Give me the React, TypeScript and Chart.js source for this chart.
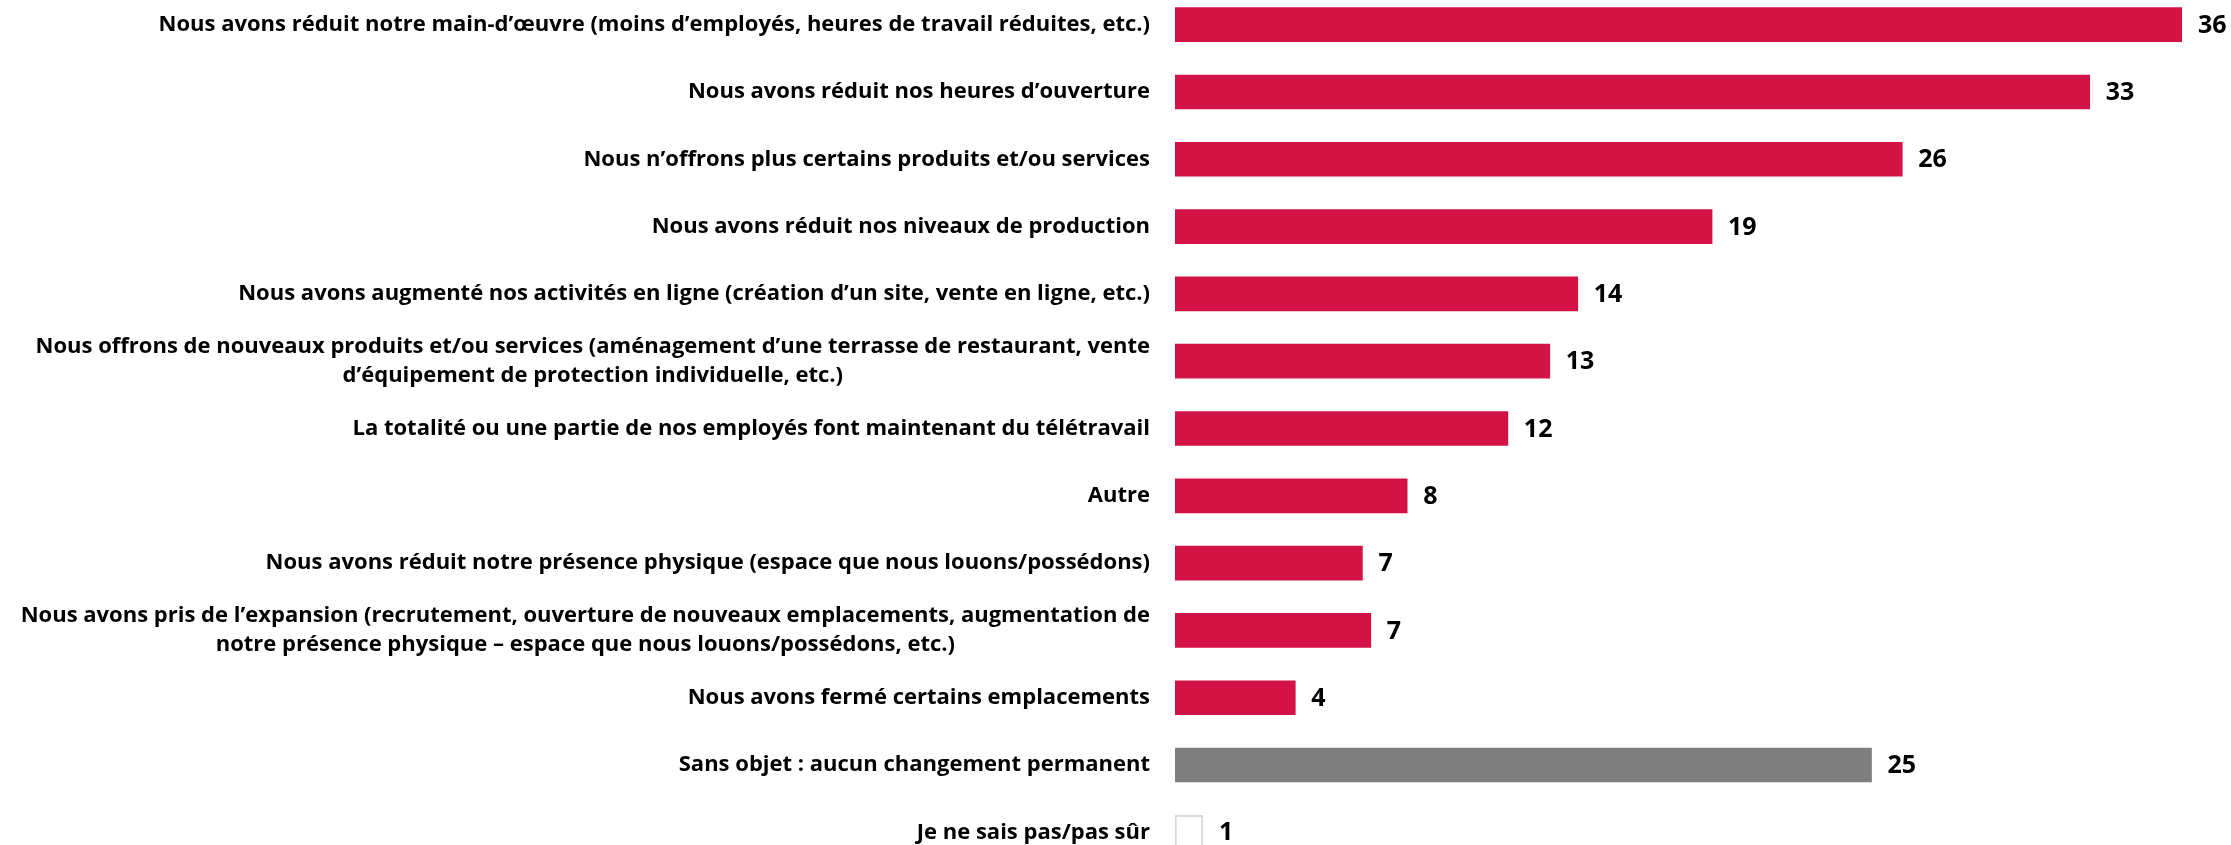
import React, { useEffect, useRef } from "react";
import { Chart, registerables } from "chart.js";

Chart.register(...registerables);

const categories: (string | string[])[] = [
  "Nous avons réduit notre main-d’œuvre (moins d’employés, heures de travail réduites, etc.)",
  "Nous avons réduit nos heures d’ouverture",
  "Nous n’offrons plus certains produits et/ou services",
  "Nous avons réduit nos niveaux de production",
  "Nous avons augmenté nos activités en ligne (création d’un site, vente en ligne, etc.)",
  [
    "Nous offrons de nouveaux produits et/ou services (aménagement d’une terrasse de restaurant, vente",
    "d’équipement de protection individuelle, etc.)",
  ],
  "La totalité ou une partie de nos employés font maintenant du télétravail",
  "Autre",
  "Nous avons réduit notre présence physique (espace que nous louons/possédons)",
  [
    "Nous avons pris de l’expansion (recrutement, ouverture de nouveaux emplacements, augmentation de",
    "notre présence physique – espace que nous louons/possédons, etc.)",
  ],
  "Nous avons fermé certains emplacements",
  "Sans objet : aucun changement permanent",
  "Je ne sais pas/pas sûr",
];

const values: number[] = [36, 32.7, 26, 19.2, 14.4, 13.4, 11.9, 8.3, 6.7, 7.0, 4.3, 24.9, 1.0];
const valueLabels: string[] = ["36", "33", "26", "19", "14", "13", "12", "8", "7", "7", "4", "25", "1"];

const RED = "#D31345";
const GRAY = "#7F7F7F";
const barColors: string[] = values.map((_, i) => (i < 11 ? RED : i === 11 ? GRAY : "#FFFFFF"));
const borderColors: string[] = values.map((_, i) => (i === 12 ? "#D9D9D9" : "rgba(0,0,0,0)"));
const borderWidths: number[] = values.map((_, i) => (i === 12 ? 2 : 0));

const LABEL_FONT = "bold 22px 'Open Sans', sans-serif";
const VALUE_FONT = "bold 25px 'Open Sans', sans-serif";

const labelPlugin = {
  id: "customLabels",
  afterDraw(chart: any) {
    const ctx = chart.ctx;
    const yScale = chart.scales.y;
    const meta = chart.getDatasetMeta(0);
    const left = chart.chartArea.left;
    ctx.save();
    ctx.fillStyle = "#000000";
    ctx.textBaseline = "middle";
    ctx.font = LABEL_FONT;
    const lineH = 28.5;
    categories.forEach((cat, i) => {
      const y = yScale.getPixelForValue(i);
      const lines = Array.isArray(cat) ? cat : [cat];
      const right = left - 25;
      if (lines.length === 1) {
        ctx.textAlign = "right";
        ctx.fillText(lines[0], right, y);
      } else {
        const maxW = Math.max(...lines.map((l) => ctx.measureText(l).width));
        const cx = right - maxW / 2;
        ctx.textAlign = "center";
        lines.forEach((l, k) => {
          const ly = y + (k - (lines.length - 1) / 2) * lineH;
          ctx.fillText(l, cx, ly);
        });
      }
    });
    ctx.font = VALUE_FONT;
    ctx.textAlign = "left";
    meta.data.forEach((bar: any, i: number) => {
      ctx.fillText(valueLabels[i], bar.x + 16, bar.y + 1);
    });
    ctx.restore();
  },
};

export default function App() {
  const ref = useRef<HTMLCanvasElement | null>(null);
  useEffect(() => {
    if (!ref.current) return;
    const chart = new Chart(ref.current, {
      type: "bar",
      data: {
        labels: categories.map((c) => (Array.isArray(c) ? c.join(" ") : c)),
        datasets: [
          {
            data: values,
            backgroundColor: barColors,
            borderColor: borderColors,
            borderWidth: borderWidths,
            borderSkipped: false,
            barThickness: 34,
          },
        ],
      },
      options: {
        indexAxis: "y",
        animation: false,
        responsive: false,
        devicePixelRatio: 1,
        layout: { padding: { left: 1175, right: 49, top: 0, bottom: 0 } },
        plugins: { legend: { display: false }, tooltip: { enabled: false } },
        scales: {
          x: { display: false, min: 0, max: 36 },
          y: { display: false },
        },
      },
      plugins: [labelPlugin],
    });
    return () => chart.destroy();
  }, []);
  return (
    <div style={{ position: "absolute", left: 0, top: -9, width: 2231, height: 875 }}>
      <canvas ref={ref} width={2231} height={875} style={{ width: 2231, height: 875 }} />
    </div>
  );
}
